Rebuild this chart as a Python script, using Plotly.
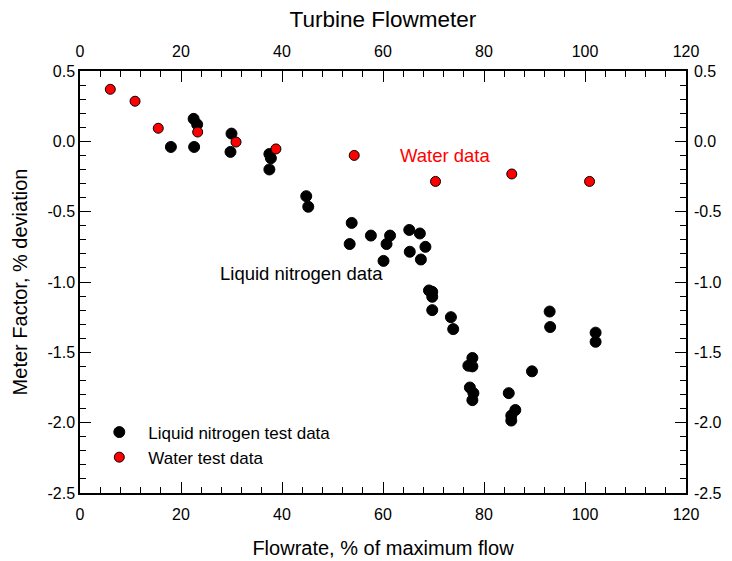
import plotly.graph_objects as go

ln2_x = [18.0, 22.5, 23.2, 22.6, 30.0, 29.8, 37.5, 37.8, 37.5, 44.8, 45.2,
         53.8, 53.4, 57.6, 61.4, 60.7, 60.1, 65.2, 67.3, 68.4, 65.3, 67.5,
         69.1, 69.75, 69.75, 69.75, 73.45, 73.9, 77.7, 76.9, 77.7, 77.2, 77.9, 77.7,
         84.9, 86.2, 85.4, 85.4, 89.5, 93.0, 93.1, 102.1, 102.1]
ln2_y = [-0.04, 0.16, 0.12, -0.04, 0.055, -0.075, -0.09, -0.12, -0.20, -0.39, -0.465,
         -0.58, -0.73, -0.67, -0.67, -0.73, -0.85, -0.63, -0.655, -0.75, -0.785, -0.84,
         -1.06, -1.07, -1.105, -1.20, -1.25, -1.335, -1.54, -1.595, -1.60, -1.75, -1.79, -1.84,
         -1.79, -1.91, -1.95, -1.985, -1.635, -1.21, -1.32, -1.36, -1.425]

water_x = [6.0, 10.9, 15.5, 23.3, 30.9, 38.8, 54.3, 70.4, 85.5, 100.9]
water_y = [0.37, 0.285, 0.093, 0.066, -0.005, -0.054, -0.10, -0.285, -0.232, -0.285]

y_tickvals = [0.5, 0.0, -0.5, -1.0, -1.5, -2.0, -2.5]
y_ticktext = ["0.5", "0.0", "-0.5", "-1.0", "-1.5", "-2.0", "-2.5"]

FONT = "Arial, Liberation Sans, sans-serif"

fig = go.Figure()
fig.add_trace(go.Scatter(x=ln2_x, y=ln2_y, mode="markers", name="Liquid nitrogen test data",
                         marker=dict(color="black", size=11, line=dict(color="black", width=1))))
fig.add_trace(go.Scatter(x=water_x, y=water_y, mode="markers", name="Water test data",
                         marker=dict(color="#ff0000", size=10, line=dict(color="black", width=1))))

axis_common = dict(showline=True, linecolor="black", linewidth=1.5, ticks="inside",
                   ticklen=11, tickwidth=1, tickcolor="black", showgrid=False, zeroline=False,
                   automargin=False,
                   tickfont=dict(family=FONT, size=16, color="black"))

fig.update_layout(
    width=732, height=561,
    margin=dict(l=79.5, r=45.5, t=71, b=68),
    paper_bgcolor="white", plot_bgcolor="white",
    title=dict(text="Turbine Flowmeter", x=0.523, xanchor="center", y=0.966, yanchor="middle",
               font=dict(family=FONT, size=22.5, color="black")),
    xaxis=dict(range=[0, 120], dtick=20, tick0=0, ticklabelstandoff=6,
               minor=dict(dtick=4, ticks="inside", ticklen=6, tickcolor="black"),
               title=dict(text="Flowrate, % of maximum flow", font=dict(family=FONT, size=20, color="black"), standoff=19),
               **axis_common),
    xaxis2=dict(range=[0, 120], dtick=20, tick0=0, overlaying="x", side="top", anchor="y", ticklabelstandoff=6,
                minor=dict(dtick=4, ticks="inside", ticklen=6, tickcolor="black"),
                **axis_common),
    yaxis=dict(range=[-2.5, 0.5], tickmode="array", tickvals=y_tickvals, ticktext=y_ticktext,
               minor=dict(dtick=0.1, tick0=0, ticks="inside", ticklen=6, tickcolor="black"),
               title=dict(text="Meter Factor, % deviation", font=dict(family=FONT, size=20, color="black"), standoff=14),
               **axis_common),
    yaxis2=dict(range=[-2.5, 0.5], tickmode="array", tickvals=y_tickvals, ticktext=y_ticktext,
                overlaying="y", side="right", anchor="x", ticklabelstandoff=3,
                minor=dict(dtick=0.1, tick0=0, ticks="inside", ticklen=6, tickcolor="black"),
                **axis_common),
    legend=dict(x=0.017, y=0.186, xanchor="left", yanchor="top", bgcolor="rgba(0,0,0,0)",
                font=dict(family=FONT, size=17, color="black"), tracegroupgap=0, itemwidth=48),
    showlegend=True,
    annotations=[
        dict(text="Liquid nitrogen data", x=27.4, y=-0.94, xref="x", yref="y", xanchor="left",
             yanchor="middle", showarrow=False, font=dict(family=FONT, size=18.5, color="black")),
        dict(text="Water data", x=63.0, y=-0.10, xref="x", yref="y", xanchor="left",
             yanchor="middle", showarrow=False, font=dict(family=FONT, size=18.5, color="#ff0000")),
    ],
)
# dummy trace to activate top and right axes
fig.add_trace(go.Scatter(x=[None], y=[None], xaxis="x2", yaxis="y2", showlegend=False, hoverinfo="skip"))

fig.write_html("out.html", config={"displayModeBar": False},
               post_script="document.body.style.margin='0';document.body.style.overflow='hidden';")
